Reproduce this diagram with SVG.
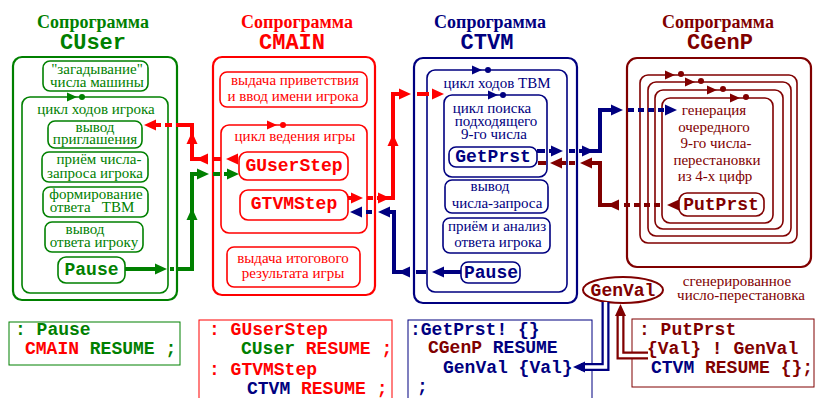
<svg xmlns="http://www.w3.org/2000/svg" width="816" height="398" viewBox="0 0 816 398">
<defs>
<style>
.t{font-family:"Liberation Serif","Times New Roman",serif;font-size:15px;text-anchor:middle}
.h{font-family:"Liberation Serif","Times New Roman",serif;font-size:18px;font-weight:bold;text-anchor:middle}
.hm{font-family:"Liberation Mono","Courier New",monospace;font-size:22px;font-weight:bold;text-anchor:middle}
.m{font-family:"Liberation Mono","Courier New",monospace;font-weight:bold;font-size:18px}
.mc{text-anchor:middle}
.g{fill:#008000}.r{fill:#ff0000}.b{fill:#000080}.d{fill:#800000}
.bx{fill:none;stroke-width:1.6}
.ob{fill:none;stroke-width:2.2}
.sg{stroke:#008000}.sr{stroke:#ff0000}.sb{stroke:#000080}.sd{stroke:#800000}
.ln{fill:none;stroke-width:4}
.ds{stroke-dasharray:6 4}
.code{fill:none;stroke-width:1}
.dl{fill:none;stroke-width:8}
.dw{fill:none;stroke:#fff;stroke-width:3.5}
</style>
<path id="ah" d="M0,0 L-12,-5.5 L-12,5.5 Z"/>
<path id="lm" d="M0,0 L-10,-4.5 L-10,4.5 Z"/>
</defs>
<rect width="816" height="398" fill="#fff"/>

<g id="cuser">
<text class="h g" x="93" y="28">Сопрограмма</text>
<text class="hm g" x="93" y="49">CUser</text>
<rect class="ob sg" x="13" y="57" width="164" height="243" rx="9"/>
<rect class="bx sg" x="43" y="61" width="105" height="30" rx="7"/>
<text class="t g" x="97" y="74">"загадывание"</text>
<text class="t g" x="97" y="87">числа машины</text>
<rect class="bx sg" x="22" y="97" width="146" height="196" rx="8"/>
<use href="#lm" class="g" transform="translate(77,97)"/>
<circle class="g" cx="82" cy="97" r="3"/>
<text class="t g" x="96" y="114">цикл ходов игрока</text>
<rect class="bx sg" x="48" y="121" width="94" height="27" rx="7"/>
<text class="t g" x="95" y="132">вывод</text>
<text class="t g" x="95" y="144">приглашения</text>
<rect class="bx sg" x="42" y="152" width="106" height="30" rx="7"/>
<text class="t g" x="99" y="164">приём числа-</text>
<text class="t g" x="95" y="178">запроса игрока</text>
<rect class="bx sg" x="43" y="187" width="105" height="30" rx="7"/>
<text class="t g" x="96" y="199">формирование</text>
<text class="t g" x="92" y="212" xml:space="preserve">ответа   ТВМ</text>
<rect class="bx sg" x="45" y="222" width="98" height="30" rx="7"/>
<text class="t g" x="85" y="234">вывод</text>
<text class="t g" x="94" y="247">ответа игроку</text>
<rect class="bx sg" x="58" y="257" width="67" height="26" rx="8"/>
<text class="m mc g" x="91.5" y="275">Pause</text>
</g>

<g id="cmain">
<text class="h r" x="297" y="28">Сопрограмма</text>
<text class="hm r" x="292" y="49">CMAIN</text>
<rect class="ob sr" x="213" y="57" width="162" height="238" rx="9"/>
<rect class="bx sr" x="220" y="72" width="147" height="35" rx="7"/>
<text class="t r" x="295" y="85">выдача приветствия</text>
<text class="t r" x="293" y="101">и ввод имени игрока</text>
<rect class="bx sr" x="221" y="125" width="146" height="108" rx="8"/>
<use href="#lm" class="r" transform="translate(277,125)"/>
<circle class="r" cx="283" cy="125" r="3"/>
<text class="t r" x="295" y="141">цикл ведения игры</text>
<rect class="bx sr" x="239" y="152" width="109" height="28" rx="8"/>
<text class="m mc r" x="294" y="171">GUserStep</text>
<rect class="bx sr" x="240" y="190" width="108" height="30" rx="8"/>
<text class="m mc r" x="294" y="209">GTVMStep</text>
<rect class="bx sr" x="227" y="247" width="133" height="40" rx="7"/>
<text class="t r" x="293" y="263">выдача итогового</text>
<text class="t r" x="293" y="278">результата игры</text>
</g>

<g id="ctvm">
<text class="h b" x="490" y="28">Сопрограмма</text>
<text class="hm b" x="487" y="49">CTVM</text>
<rect class="ob sb" x="414" y="58" width="163" height="245" rx="9"/>
<rect class="bx sb" x="427" y="70" width="140" height="222" rx="8"/>
<use href="#lm" class="b" transform="translate(482,70)"/>
<circle class="b" cx="488" cy="70" r="3"/>
<text class="t b" x="497" y="88">цикл ходов ТВМ</text>
<rect class="bx sb" x="444" y="95" width="103" height="82" rx="8"/>
<use href="#lm" class="b" transform="translate(498,95)"/>
<circle class="b" cx="503" cy="95" r="3"/>
<text class="t b" x="492" y="113">цикл поиска</text>
<text class="t b" x="496" y="126">подходящего</text>
<text class="t b" x="494" y="139">9-го числа</text>
<rect class="bx sb" x="449" y="147" width="88" height="20" rx="7"/>
<text class="m mc b" x="493" y="162">GetPrst</text>
<rect class="bx sb" x="445" y="180" width="103" height="33" rx="7"/>
<text class="t b" x="490" y="191">вывод</text>
<text class="t b" x="497" y="208">числа-запроса</text>
<rect class="bx sb" x="443" y="218" width="107" height="35" rx="7"/>
<text class="t b" x="497" y="231">приём и анализ</text>
<text class="t b" x="498" y="247">ответа игрока</text>
<rect class="bx sb" x="461" y="262" width="59" height="21" rx="7"/>
<text class="m mc b" x="491" y="278">Pause</text>
</g>

<g id="cgenp">
<text class="h d" x="718" y="28">Сопрограмма</text>
<text class="hm d" x="720" y="49">CGenP</text>
<rect class="ob sd" x="627" y="58" width="184" height="209" rx="10"/>
<rect class="bx sd" x="640" y="75" width="157" height="168" rx="8"/>
<rect class="bx sd" x="648" y="82" width="143" height="154" rx="8"/>
<rect class="bx sd" x="655" y="90" width="128" height="139" rx="8"/>
<rect class="bx sd" x="662" y="98" width="111" height="125" rx="8"/>
<use href="#lm" class="d" transform="translate(675,75)"/>
<circle class="d" cx="681" cy="74" r="3"/>
<use href="#lm" class="d" transform="translate(695,82)"/>
<circle class="d" cx="701" cy="81" r="3"/>
<use href="#lm" class="d" transform="translate(717,90)"/>
<circle class="d" cx="723" cy="89" r="3"/>
<use href="#lm" class="d" transform="translate(740,98)"/>
<circle class="d" cx="746" cy="97" r="3"/>
<text class="t d" x="714" y="115">генерация</text>
<text class="t d" x="714" y="132">очередного</text>
<text class="t d" x="716" y="148">9-го числа-</text>
<text class="t d" x="717" y="165">перестановки</text>
<text class="t d" x="715" y="181">из 4-х цифр</text>
<rect class="bx sd" x="679" y="193" width="85" height="23" rx="8"/>
<text class="m mc d" x="721" y="210">PutPrst</text>
</g>

<g id="genval">
<ellipse cx="623" cy="290" rx="40" ry="13" fill="#fff" stroke="#800000" stroke-width="2"/>
<text class="m mc d" x="623" y="296">GenVal</text>
<text class="t d" x="737" y="286">сгенерированное</text>
<text class="t d" x="741" y="300">число-перестановка</text>
</g>

<g id="code-cuser">
<rect class="code sg" x="9" y="322" width="171" height="43"/>
<text class="m g" x="15" y="335">: Pause</text>
<text class="m" x="25" y="354"><tspan class="r">CMAIN</tspan><tspan class="g"> RESUME ;</tspan></text>
</g>

<g id="code-cmain">
<rect class="code sr" x="199" y="320" width="193" height="90"/>
<text class="m r" x="209" y="335">: GUserStep</text>
<text class="m" x="241" y="354"><tspan class="g">CUser</tspan><tspan class="r"> RESUME ;</tspan></text>
<text class="m r" x="209" y="375">: GTVMStep</text>
<text class="m" x="247" y="394"><tspan class="b">CTVM</tspan><tspan class="r"> RESUME ;</tspan></text>
</g>

<g id="code-ctvm">
<rect class="code sb" x="408" y="320" width="184" height="90"/>
<text class="m b" x="410" y="335">:GetPrst! {}</text>
<text class="m" x="428" y="353"><tspan class="d">CGenP</tspan><tspan class="b"> RESUME</tspan></text>
<text class="m b" x="443" y="373">GenVal {Val}</text>
<text class="m b" x="417" y="392">;</text>
</g>

<g id="code-cgenp">
<rect class="code sd" x="632" y="319" width="182" height="68"/>
<text class="m d" x="639" y="335">: PutPrst</text>
<text class="m d" x="647" y="354">{Val} ! GenVal</text>
<text class="m" x="651" y="373"><tspan class="b">CTVM</tspan><tspan class="d"> RESUME {};</tspan></text>
</g>

<g id="connectors">
<path class="ln sg" d="M125,269 H157"/>
<use href="#ah" class="g" transform="translate(167,269)"/>
<path class="ln sg" d="M170,269 H174"/>
<path class="ln sg" d="M178,269 H192 V174 H199"/>
<use href="#ah" class="g" transform="translate(192,208) rotate(-90)"/>
<use href="#ah" class="g" transform="translate(209,174)"/>
<path class="ln sg" d="M213,174 H220"/>
<path class="ln sg" d="M224,174 H229"/>
<use href="#ah" class="g" transform="translate(239,174)"/>
<use href="#ah" class="r" transform="translate(226,159) rotate(180)"/>
<path class="ln sr" d="M221,159 H213"/>
<path class="ln sr" d="M208,159 H192 V125 H176"/>
<use href="#ah" class="r" transform="translate(196,159) rotate(180)"/>
<use href="#ah" class="r" transform="translate(192,132) rotate(-90)"/>
<path class="ln sr" d="M172,125 H165"/>
<path class="ln sr" d="M161,125 H154"/>
<use href="#ah" class="r" transform="translate(144,125) rotate(180)"/>
<path class="ln sr" d="M348,198 H353"/>
<use href="#ah" class="r" transform="translate(363,198)"/>
<path class="ln sr" d="M367,198 H373"/>
<path class="ln sr" d="M377,198 H393 V94 H401"/>
<use href="#ah" class="r" transform="translate(390,198)"/>
<use href="#ah" class="r" transform="translate(393,134) rotate(-90)"/>
<use href="#ah" class="r" transform="translate(411,94)"/>
<path class="ln sr" d="M417,94 H429"/>
<path class="ln sr" d="M432,94 H436"/>
<use href="#ah" class="r" transform="translate(444,94)"/>
<path class="ln sb" d="M461,272 H442"/>
<use href="#ah" class="b" transform="translate(432,272) rotate(180)"/>
<path class="ln sb" d="M426,272 H416"/>
<path class="ln sb" d="M410,272 H394 V212 H388"/>
<use href="#ah" class="b" transform="translate(398,272) rotate(180)"/>
<use href="#ah" class="b" transform="translate(378,212) rotate(180)"/>
<path class="ln sb" d="M372,212 H366"/>
<path class="ln sb" d="M362,212 H358"/>
<use href="#ah" class="b" transform="translate(350,212) rotate(180)"/>
<path class="ln sb" d="M537,151 H545"/>
<path class="ln sb" d="M549,151 H553"/>
<use href="#ah" class="b" transform="translate(563,151)"/>
<path class="ln sb" d="M569,151 H575"/>
<path class="ln sb" d="M579,151 H600 V110 H613"/>
<use href="#ah" class="b" transform="translate(594,151)"/>
<use href="#ah" class="b" transform="translate(623,110)"/>
<path class="ln sb ds" d="M628,110 H666"/>
<use href="#ah" class="b" transform="translate(677,110)"/>
<path class="ln sd" d="M679,205 H672"/>
<use href="#ah" class="d" transform="translate(667,205) rotate(180)"/>
<path class="ln sd ds" d="M660,205 H620"/>
<use href="#ah" class="d" transform="translate(607,205) rotate(180)"/>
<path class="ln sd" d="M617,205 H600 V163 H592"/>
<use href="#ah" class="d" transform="translate(580,163) rotate(180)"/>
<path class="ln sd" d="M575,163 H569"/>
<path class="ln sd" d="M566,163 H560"/>
<use href="#ah" class="d" transform="translate(550,163) rotate(180)"/>
<path class="ln sd" d="M546,163 H538"/>
<path class="dl sb" d="M605.5,302 V367 H581"/>
<path class="dw" d="M605.5,302 V367 H581"/>
<use href="#ah" class="b" transform="translate(573,367) rotate(180)"/>
<path class="dl sd" d="M620.5,315 V355.5 H648"/>
<path class="dw" d="M620.5,315 V355.5 H648"/>
<use href="#ah" class="d" transform="translate(620.5,304) rotate(-90)"/>
</g>
</svg>
